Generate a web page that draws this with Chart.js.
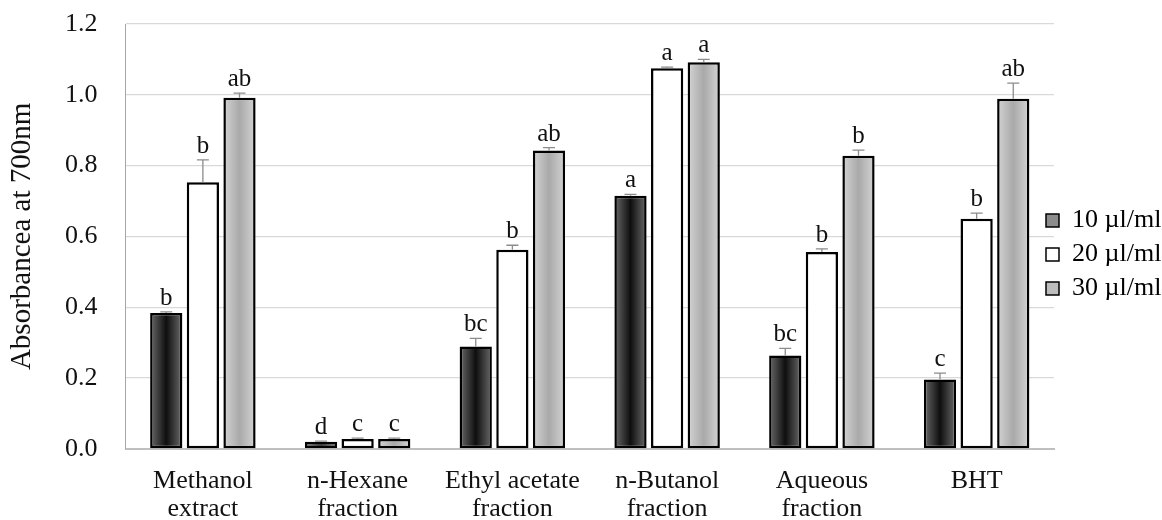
<!DOCTYPE html>
<html>
<head>
<meta charset="utf-8">
<script src="https://cdn.jsdelivr.net/npm/chart.js@4.4.1/dist/chart.umd.min.js"></script>
<style>
  html, body { margin: 0; padding: 0; background: #fff; }
  #wrap { width: 1162px; height: 520px; }
</style>
</head>
<body>
<div id="wrap"><canvas id="c"></canvas></div>
<script>
  'use strict';

  // ── Data ──────────────────────────────────────────
  const categories = [
    ['Methanol', 'extract'],
    ['n-Hexane', 'fraction'],
    ['Ethyl acetate', 'fraction'],
    ['n-Butanol', 'fraction'],
    ['Aqueous', 'fraction'],
    ['BHT']
  ];
  const seriesNames = ['10 µl/ml', '20 µl/ml', '30 µl/ml'];

  const conc10 = [0.384, 0.020, 0.289, 0.715, 0.264, 0.196];
  const conc20 = [0.753, 0.028, 0.562, 1.075, 0.556, 0.650];
  const conc30 = [0.992, 0.028, 0.843, 1.092, 0.828, 0.989];

  const err10 = [0.003, 0.002, 0.023, 0.004, 0.020, 0.018];
  const err20 = [0.063, 0.002, 0.013, 0.003, 0.009, 0.016];
  const err30 = [0.013, 0.002, 0.008, 0.008, 0.016, 0.044];

  const letters10 = ['b', 'd', 'bc', 'a', 'bc', 'c'];
  const letters20 = ['b', 'c', 'b', 'a', 'b', 'b'];
  const letters30 = ['ab', 'c', 'ab', 'a', 'b', 'ab'];

  const yTicks = [0, 0.2, 0.4, 0.6, 0.8, 1.0, 1.2];

  const FONT = "'Liberation Serif', 'Times New Roman', serif";

  // gradient stops per series: [edge, centre]
  const shades = [
    ['#6a6a6a', '#0e0e0e'],
    ['#ffffff', '#ffffff'],
    ['#d4d4d4', '#a9a9a9']
  ];
  const legendFill = ['#8c8c8c', '#ffffff', '#bdbdbd'];

  // ── Plugins ───────────────────────────────────────
  // horizontal shading across each bar
  const barShade = {
    id: 'barShade',
    beforeDatasetsDraw(chart) {
      const ctx = chart.ctx;
      chart.data.datasets.forEach(function (ds, di) {
        const meta = chart.getDatasetMeta(di);
        meta.data.forEach(function (el) {
          const x0 = el.x - el.width / 2, x1 = el.x + el.width / 2;
          const g = ctx.createLinearGradient(x0, 0, x1, 0);
          g.addColorStop(0, shades[di][0]);
          g.addColorStop(0.5, shades[di][1]);
          g.addColorStop(1, shades[di][0]);
          el.options = Object.assign({}, el.options, { backgroundColor: g });
        });
      });
    }
  };

  // error bars + significance letters
  const errLetters = {
    id: 'errLetters',
    afterDatasetsDraw(chart) {
      const ctx = chart.ctx;
      const y = chart.scales.y;
      const errs = [err10, err20, err30];
      const lets = [letters10, letters20, letters30];
      ctx.save();
      chart.data.datasets.forEach(function (ds, di) {
        const meta = chart.getDatasetMeta(di);
        meta.data.forEach(function (el, i) {
          const v = ds.data[i];
          const top = y.getPixelForValue(v + errs[di][i]);
          const base = y.getPixelForValue(v);
          ctx.strokeStyle = '#8c8c8c';
          ctx.lineWidth = 1.3;
          ctx.beginPath();
          ctx.moveTo(el.x, base);
          ctx.lineTo(el.x, top);
          ctx.moveTo(el.x - 6, top);
          ctx.lineTo(el.x + 6, top);
          ctx.stroke();
          ctx.fillStyle = '#111';
          ctx.font = '25px ' + FONT;
          ctx.textAlign = 'center';
          ctx.textBaseline = 'bottom';
          ctx.fillText(lets[di][i], el.x, top - 1);
        });
      });
      ctx.restore();
    }
  };

  // legend sits slightly over the plot edge and a bit high, as in the original
  const legendNudge = {
    id: 'legendNudge',
    afterLayout(chart) {
      chart.legend.left -= 16;
      chart.legend.top -= 24;
      chart.legend.bottom -= 24;
    }
  };

  // ── Chart ─────────────────────────────────────────
  const series = [conc10, conc20, conc30];
  new Chart(document.getElementById('c'), {
    type: 'bar',
    data: {
      labels: categories,
      datasets: series.map(function (vals, i) {
        return {
          label: seriesNames[i],
          data: vals,
          backgroundColor: legendFill[i],
          borderColor: '#000',
          borderWidth: 2.5,
          borderSkipped: false,
          categoryPercentage: 0.71,
          barPercentage: 0.88
        };
      })
    },
    options: {
      responsive: true,
      maintainAspectRatio: false,
      animation: false,
      layout: { padding: { top: 24, left: 8, right: 0, bottom: -13 } },
      plugins: {
        legend: {
          position: 'right',
          maxWidth: 108,
          labels: {
            font: { family: FONT, size: 26 },
            color: '#111',
            boxWidth: 13,
            boxHeight: 13,
            padding: 8,
            generateLabels: function (chart) {
              return chart.data.datasets.map(function (ds, i) {
                return {
                  text: ds.label,
                  fillStyle: legendFill[i],
                  strokeStyle: '#000',
                  lineWidth: 1.5,
                  datasetIndex: i
                };
              });
            }
          }
        },
        tooltip: { enabled: false }
      },
      scales: {
        x: {
          grid: { display: false },
          border: { color: '#bfbfbf', width: 2 },
          ticks: {
            color: '#111',
            padding: 10,
            font: { family: FONT, size: 26, lineHeight: 1.08 },
            maxRotation: 0,
            autoSkip: false
          }
        },
        y: {
          min: 0,
          max: 1.2,
          afterBuildTicks: function (axis) {
            axis.ticks = yTicks.map(function (v) { return { value: v }; });
          },
          grid: { color: '#d9d9d9', lineWidth: 1.3, drawTicks: true, tickLength: 28, tickColor: 'rgba(0,0,0,0)' },
          border: { display: true, color: '#a6a6a6', width: 1 },
          ticks: {
            color: '#111',
            padding: 0,
            font: { family: FONT, size: 26 },
            callback: function (v) { return v.toFixed(1); }
          },
          title: {
            display: true,
            text: 'Absorbancea at 700nm',
            color: '#111',
            font: { family: FONT, size: 29, lineHeight: 1 },
            padding: { top: 0, bottom: 28 }
          }
        }
      }
    },
    plugins: [barShade, errLetters, legendNudge]
  });
</script>
</body>
</html>
